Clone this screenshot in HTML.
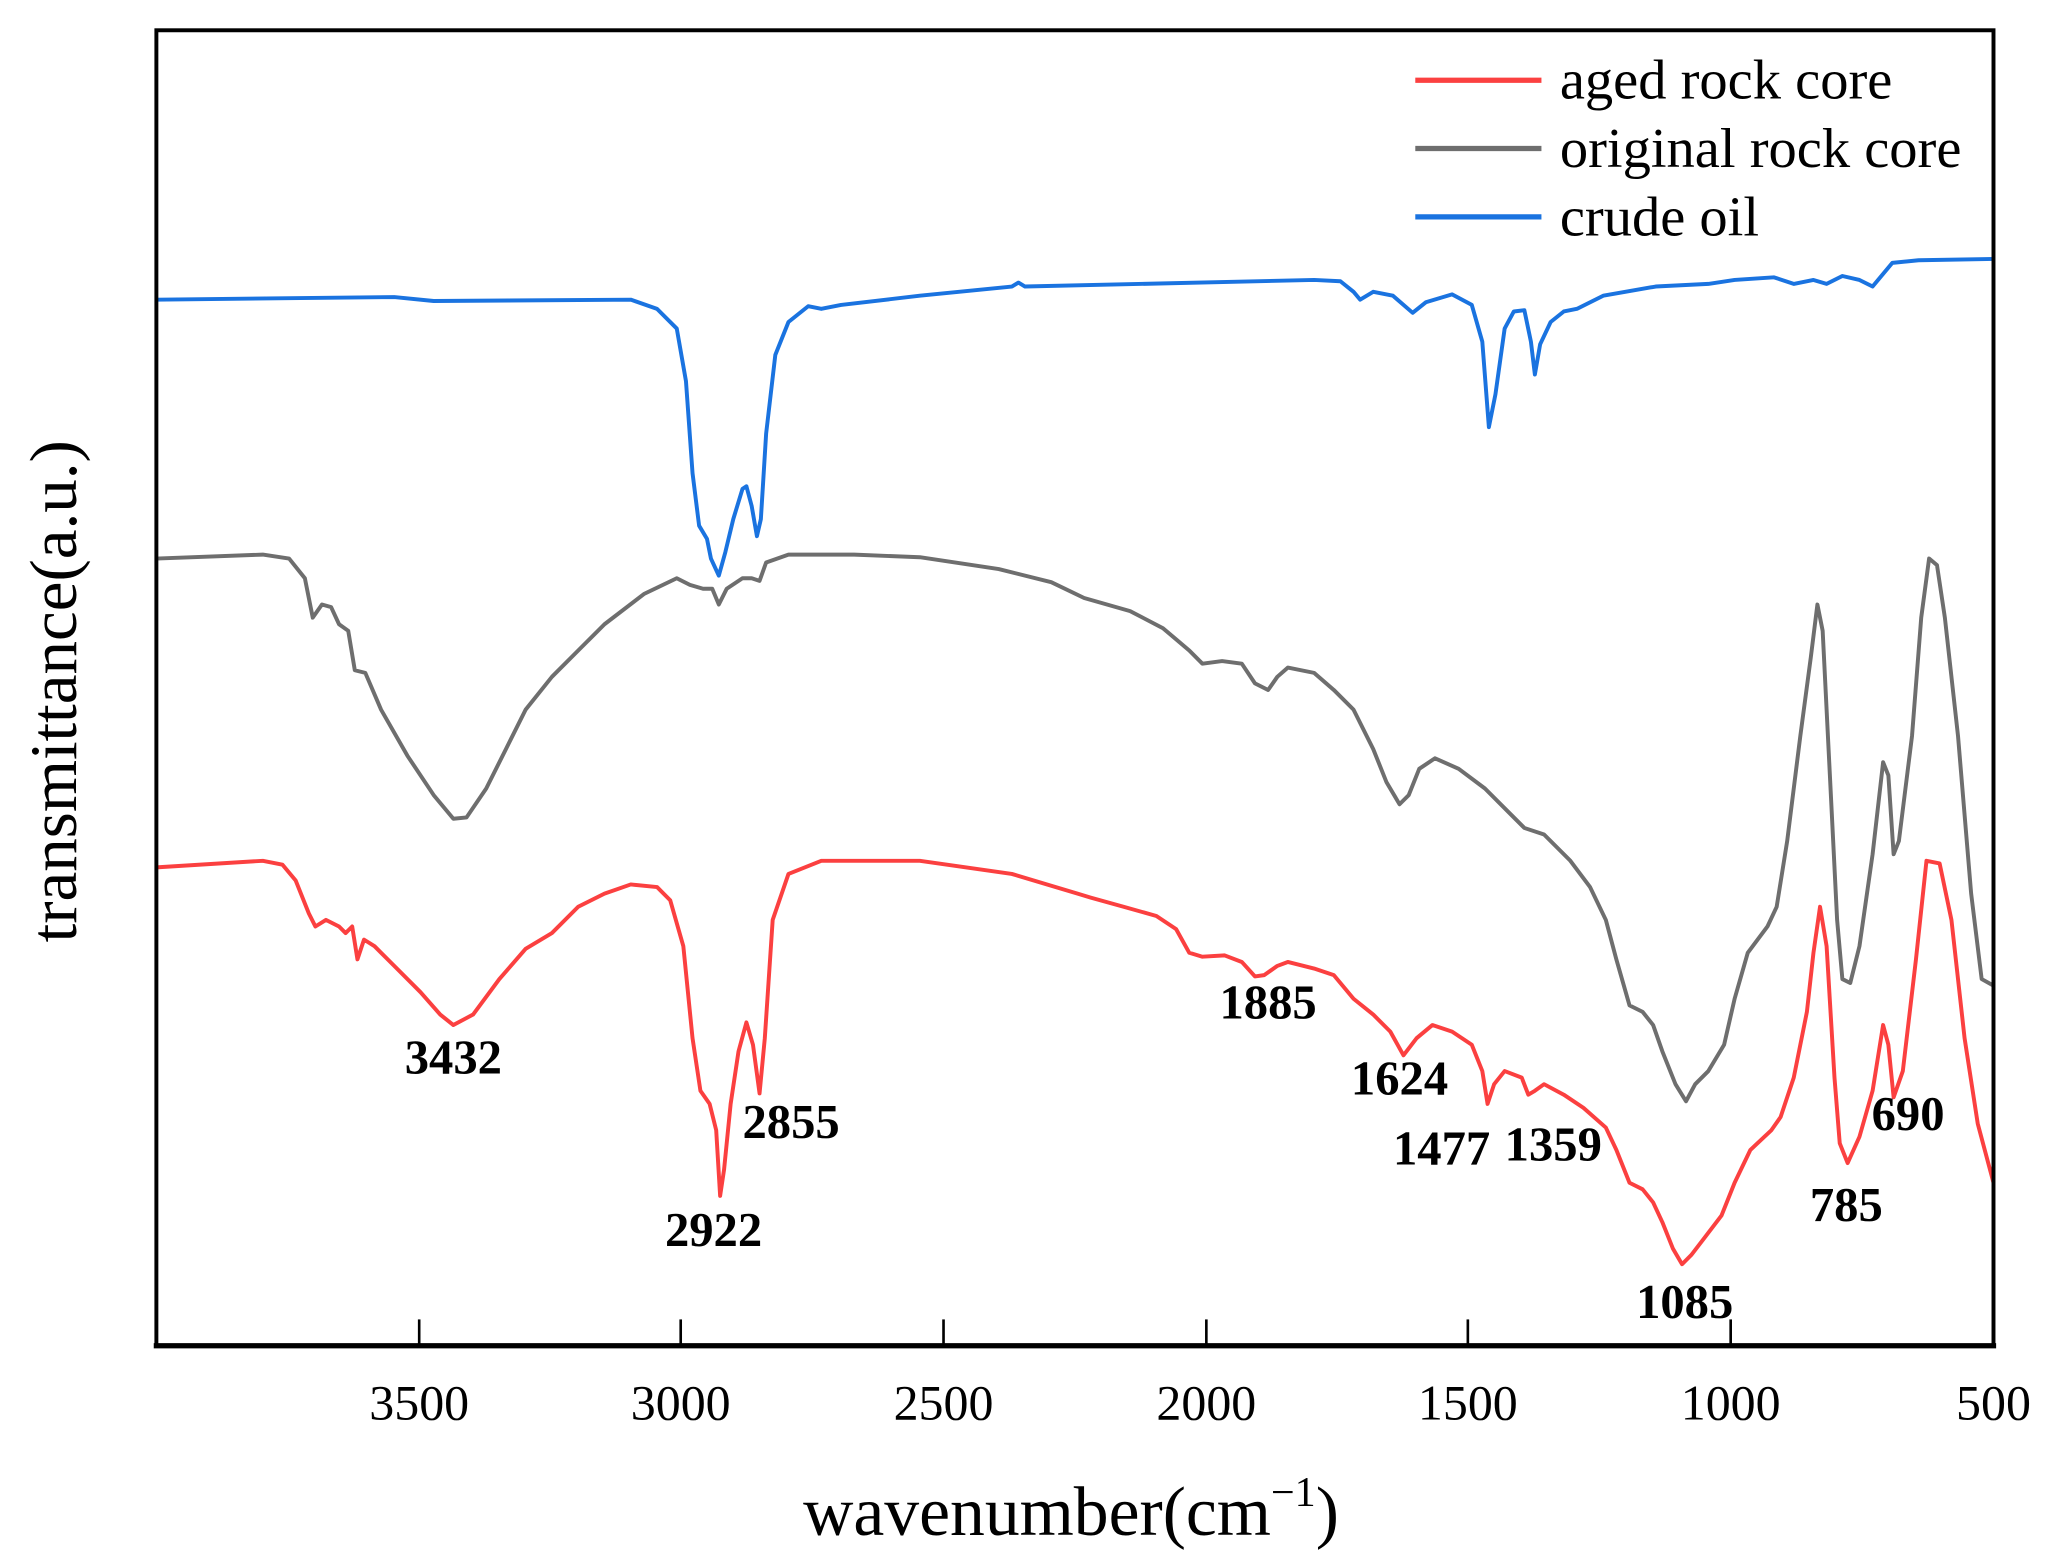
<!DOCTYPE html>
<html><head><meta charset="utf-8"><style>html,body{margin:0;padding:0;background:#fff}svg{display:block}</style></head>
<body>
<svg width="2050" height="1556" viewBox="0 0 1560 1184" xmlns="http://www.w3.org/2000/svg" font-family="Liberation Serif, serif">
<rect width="1560" height="1184" fill="#fff"/>
<g fill="none" stroke-width="3" stroke-linejoin="round">
<polyline stroke="#1a73e0" points="119,228 300,226 330,229 480,228 500,235 515,250 522,290 527,360 532,400 538,410 541,425 547,438 552,420 558,395 565,372 568,370 572,385 576,408 579,395 583,330 590,270 600,245 615,233 625,235 640,232 700,225 770,218 775,215 780,218 1000,213 1020,214 1030,222 1035,228 1045,222 1060,225 1075,238 1085,230 1105,224 1120,232 1128,260 1133,325 1138,300 1145,250 1152,237 1160,236 1165,260 1168,285 1172,262 1180,245 1190,237 1200,235 1220,225 1260,218 1300,216 1320,213 1350,211 1365,216 1380,213 1390,216 1402,210 1415,213 1425,218 1430,212 1440,200 1460,198 1517,197"/>
<polyline stroke="#6e6e6e" points="119,425 200,422 220,425 232,440 238,470 245,460 252,462 258,475 265,480 270,510 278,512 290,540 310,575 330,605 345,623 355,622 370,600 385,570 400,540 420,515 440,495 460,475 490,452 515,440 525,445 535,448 542,448 547,460 553,448 565,440 572,440 578,442 583,428 600,422 650,422 700,424 760,433 800,443 825,455 860,465 885,478 905,495 915,505 930,503 945,505 955,520 965,525 972,515 980,508 1000,512 1015,525 1030,540 1045,570 1055,595 1065,612 1072,605 1080,585 1092,577 1110,585 1130,600 1150,620 1160,630 1175,635 1195,655 1210,675 1222,700 1230,730 1240,765 1250,770 1258,780 1265,800 1275,825 1283,838 1290,825 1300,815 1312,795 1320,760 1330,725 1345,705 1352,690 1360,640 1370,560 1378,500 1383,460 1387,480 1392,580 1398,700 1402,745 1408,748 1415,720 1425,650 1433,580 1437,590 1441,650 1445,640 1455,560 1462,470 1468,425 1474,430 1480,470 1490,560 1500,680 1508,745 1517,750"/>
<polyline stroke="#fb4040" points="119,660 200,655 215,658 225,670 235,695 240,705 248,700 258,705 263,710 268,705 272,730 277,715 285,720 300,735 320,755 335,772 345,780 360,772 380,745 400,722 420,710 440,690 460,680 480,673 500,675 510,685 520,720 527,790 533,830 540,840 545,860 548,910 551,890 556,840 562,800 568,778 573,795 578,832 582,790 588,700 600,665 625,655 700,655 770,665 820,680 830,683 855,690 880,697 895,707 905,725 915,728 932,727 945,732 955,743 962,742 972,735 980,732 1000,737 1015,742 1030,760 1045,772 1058,785 1068,803 1078,790 1090,780 1105,785 1120,795 1128,815 1132,840 1137,825 1145,815 1158,820 1163,833 1168,830 1175,825 1190,833 1205,843 1222,858 1230,875 1240,900 1250,905 1258,915 1265,930 1273,950 1280,962 1287,955 1297,942 1310,925 1320,900 1332,875 1348,860 1355,850 1365,820 1375,770 1380,725 1385,690 1390,720 1396,820 1400,870 1406,885 1415,865 1425,830 1433,780 1437,795 1441,835 1448,815 1458,730 1466,655 1476,657 1485,700 1495,790 1505,855 1517,900"/>
</g>
<rect x="119" y="23" width="1398" height="1001" fill="none" stroke="#000" stroke-width="3"/>
<line x1="117" y1="1024" x2="1519" y2="1024" stroke="#000" stroke-width="4"/>
<g stroke="#000" stroke-width="2">
<line x1="319" y1="1024" x2="319" y2="1004"/><line x1="518" y1="1024" x2="518" y2="1004"/><line x1="718" y1="1024" x2="718" y2="1004"/><line x1="918" y1="1024" x2="918" y2="1004"/><line x1="1117" y1="1024" x2="1117" y2="1004"/><line x1="1317" y1="1024" x2="1317" y2="1004"/>
</g>
<g font-size="38" text-anchor="middle" fill="#000">
<text x="319" y="1080">3500</text><text x="518" y="1080">3000</text><text x="718" y="1080">2500</text><text x="918" y="1080">2000</text><text x="1117" y="1080">1500</text><text x="1317" y="1080">1000</text><text x="1517" y="1080">500</text>
</g>
<text x="815" y="1168" font-size="53" text-anchor="middle">wavenumber(cm<tspan dy="-22" font-size="32">−1</tspan><tspan dy="22">)</tspan></text>
<text transform="translate(58,526) rotate(-90)" font-size="51" text-anchor="middle">transmittance(a.u.)</text>
<g stroke-width="4">
<line x1="1077" y1="61" x2="1173" y2="61" stroke="#fb4040"/>
<line x1="1077" y1="113" x2="1173" y2="113" stroke="#6e6e6e"/>
<line x1="1077" y1="165" x2="1173" y2="165" stroke="#1a73e0"/>
</g>
<g font-size="43">
<text x="1187" y="75">aged rock core</text><text x="1187" y="127">original rock core</text><text x="1187" y="179">crude oil</text>
</g>
<g font-size="37" font-weight="bold" text-anchor="middle">
<text x="345" y="817">3432</text><text x="543" y="948">2922</text><text x="602" y="866">2855</text><text x="965" y="775">1885</text><text x="1065" y="833">1624</text><text x="1097" y="886">1477</text><text x="1182" y="883">1359</text><text x="1282" y="1003">1085</text><text x="1405" y="929">785</text><text x="1452" y="860">690</text>
</g>
</svg>
</body></html>
